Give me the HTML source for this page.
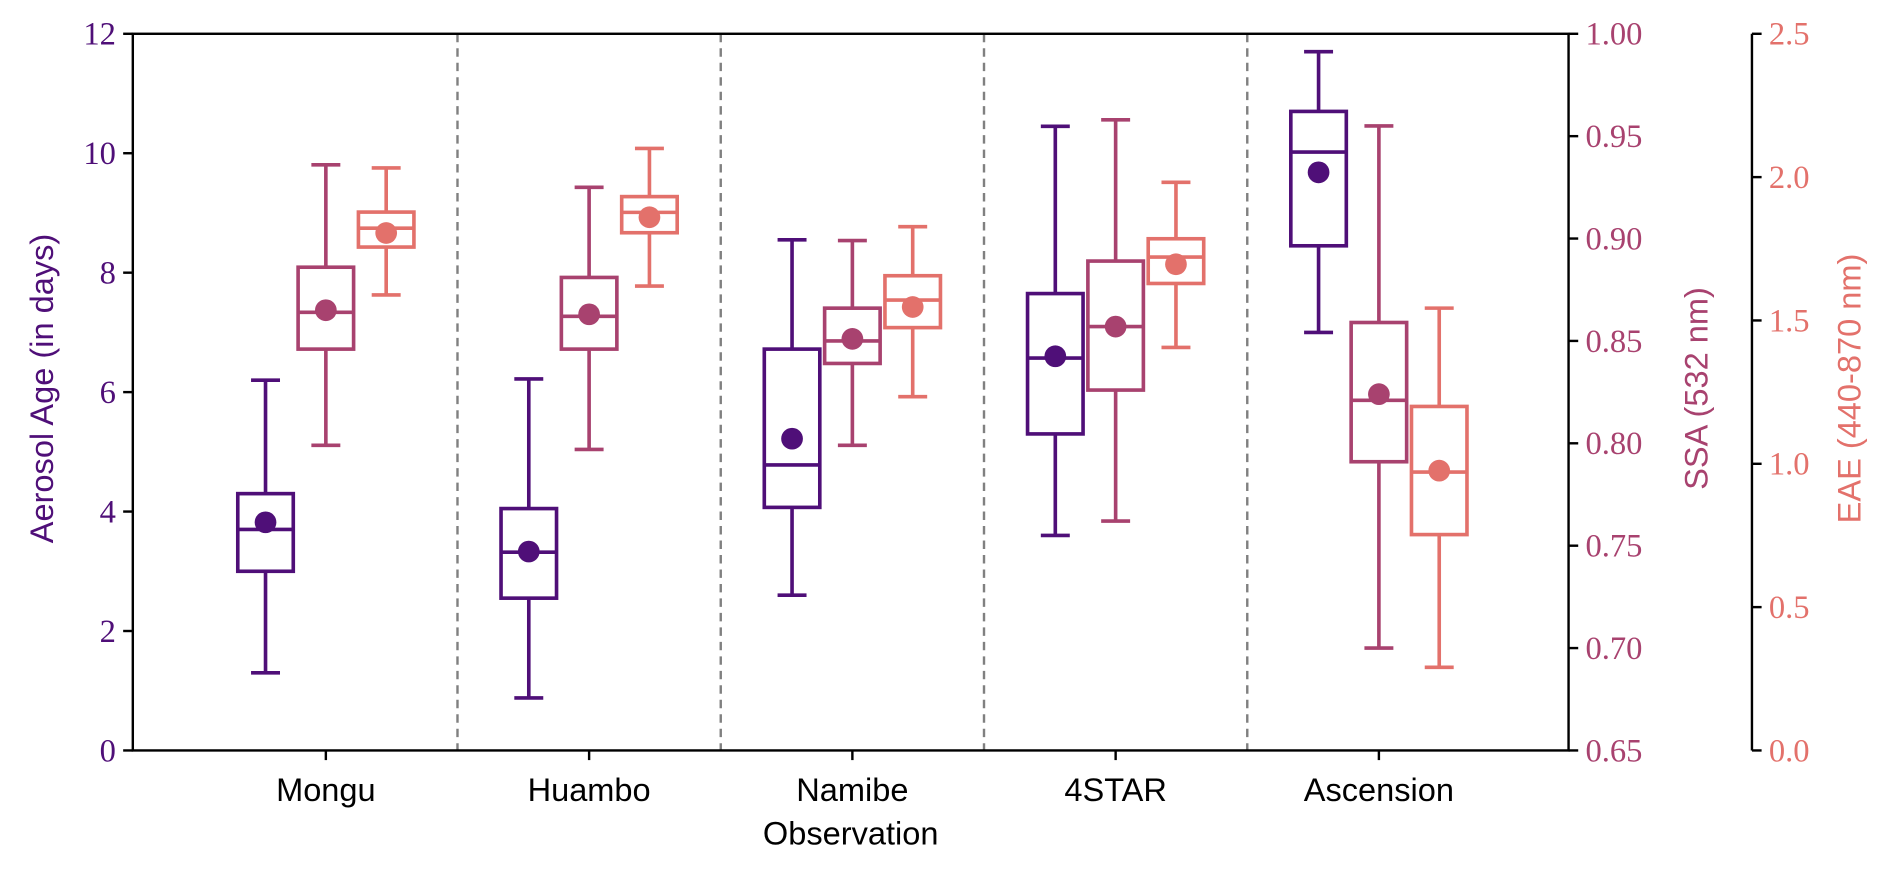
<!DOCTYPE html>
<html><head><meta charset="utf-8"><style>
body{margin:0;background:#fff}
svg text{font-family:"Liberation Serif",serif}
.sans{font-family:"Liberation Sans",sans-serif}
</style></head><body>
<svg id="chart" width="1892" height="867" viewBox="0 0 1568 718.6" xmlns="http://www.w3.org/2000/svg"></svg>
<script>
const categories=["Mongu","Huambo","Namibe","4STAR","Ascension"];
// [whiskerLow, q1, median, q3, whiskerHigh, mean]
const ageStats=[[1.3,3.0,3.7,4.3,6.2,3.82],[0.88,2.55,3.32,4.05,6.22,3.33],[2.6,4.07,4.78,6.72,8.55,5.22],[3.6,5.3,6.57,7.65,10.45,6.6],[7.0,8.45,10.02,10.7,11.7,9.68]];
const ssaStats=[[0.799,0.846,0.864,0.886,0.936,0.865],[0.797,0.846,0.862,0.881,0.925,0.863],[0.799,0.839,0.850,0.866,0.899,0.851],[0.762,0.826,0.857,0.889,0.958,0.857],[0.700,0.791,0.821,0.859,0.955,0.824]];
const eaeStats=[[1.589,1.756,1.822,1.878,2.032,1.805],[1.62,1.806,1.877,1.932,2.10,1.86],[1.234,1.475,1.571,1.656,1.827,1.547],[1.406,1.629,1.721,1.785,1.982,1.696],[0.29,0.753,0.971,1.20,1.543,0.976]];
const ageTicks=[0,2,4,6,8,10,12];
const ssaTicks=["0.65","0.70","0.75","0.80","0.85","0.90","0.95","1.00"];
const eaeTicks=["0.0","0.5","1.0","1.5","2.0","2.5"];

const NS="http://www.w3.org/2000/svg";
const svg=document.getElementById('chart');
const L=110,R=1300,T=28,B=622;
const xC=i=>270+i*218.2;
const yAge=v=>B-(v/12)*(B-T);
const ySSA=v=>B-((v-0.65)/0.35)*(B-T);
const yEAE=v=>B-(v/2.5)*(B-T);
const C1="#4f0f78",C2="#a8426f",C3="#e3716b";
function el(tag,attrs,parent){const e=document.createElementNS(NS,tag);for(const k in attrs)e.setAttribute(k,attrs[k]);(parent||svg).appendChild(e);return e;}

for(let i=0;i<4;i++){const x=(xC(i)+xC(i+1))/2;
const d=el('line',{x1:x,x2:x,y1:T,y2:B,stroke:'#808080','stroke-width':2,'stroke-dasharray':'7,5'});

}

function drawBoxes(stats,yf,off,color,name){
 stats.forEach((s,i)=>{const g=el('g',{});
  
  
  const cx=xC(i)+off,hw=23,cw=12;
  const st={stroke:color,'stroke-width':3,fill:'none'};
  el('line',Object.assign({x1:cx,x2:cx,y1:yf(s[0]),y2:yf(s[1])},st),g);
  el('line',Object.assign({x1:cx,x2:cx,y1:yf(s[3]),y2:yf(s[4])},st),g);
  el('line',Object.assign({x1:cx-cw,x2:cx+cw,y1:yf(s[0]),y2:yf(s[0])},st),g);
  el('line',Object.assign({x1:cx-cw,x2:cx+cw,y1:yf(s[4]),y2:yf(s[4])},st),g);
  el('rect',Object.assign({x:cx-hw,y:yf(s[3]),width:2*hw,height:yf(s[1])-yf(s[3])},st),g);
  el('line',Object.assign({x1:cx-hw,x2:cx+hw,y1:yf(s[2]),y2:yf(s[2])},st),g);
  el('circle',{cx:cx,cy:yf(s[5]),r:9,fill:color},g);
 });
}
drawBoxes(ageStats,yAge,-50,C1,'age');
drawBoxes(ssaStats,ySSA,0,C2,'ssa');
drawBoxes(eaeStats,yEAE,50,C3,'eae');

const fr=el('rect',{x:L,y:T,width:R-L,height:B-T,fill:'none',stroke:'#000','stroke-width':2});

const ax3=el('line',{x1:1452,x2:1452,y1:T,y2:B,stroke:'#000','stroke-width':2});


ageTicks.forEach(v=>{const y=yAge(v);el('line',{x1:L-8,x2:L,y1:y,y2:y,stroke:'#000','stroke-width':2});
 const t=el('text',{x:L-14,y:y+9,'text-anchor':'end','font-size':27,fill:C1});t.textContent=v;
 });
ssaTicks.forEach(v=>{const y=ySSA(+v);el('line',{x1:R,x2:R+8,y1:y,y2:y,stroke:'#000','stroke-width':2});
 const t=el('text',{x:R+14,y:y+9,'font-size':27,fill:C2});t.textContent=v;
 });
eaeTicks.forEach(v=>{const y=yEAE(+v);el('line',{x1:1452,x2:1460,y1:y,y2:y,stroke:'#000','stroke-width':2});
 const t=el('text',{x:1466,y:y+9,'font-size':27,fill:C3});t.textContent=v;
 });
categories.forEach((c,i)=>{const x=xC(i);el('line',{x1:x,x2:x,y1:B,y2:B+8,stroke:'#000','stroke-width':2});
 const t=el('text',{x:x,y:B+42,'text-anchor':'middle','font-size':27,fill:'#000',class:'sans'});t.textContent=c;
 });

function title(txt,x,y,color,rot,name){const t=el('text',{x:x,y:y,'text-anchor':'middle','font-size':27,fill:color,class:'sans',transform:rot?`rotate(-90 ${x} ${y})`:''});t.textContent=txt;
 }
title('Observation',(L+R)/2,B+78,'#000',false,'x-axis-title');
title('Aerosol Age (in days)',44,B-300,C1,true,'age-axis-title');
title('SSA (532 nm)',1415,B-300,C2,true,'ssa-axis-title');
title('EAE (440-870 nm)',1542,B-300,C3,true,'eae-axis-title');
</script>
</body></html>
